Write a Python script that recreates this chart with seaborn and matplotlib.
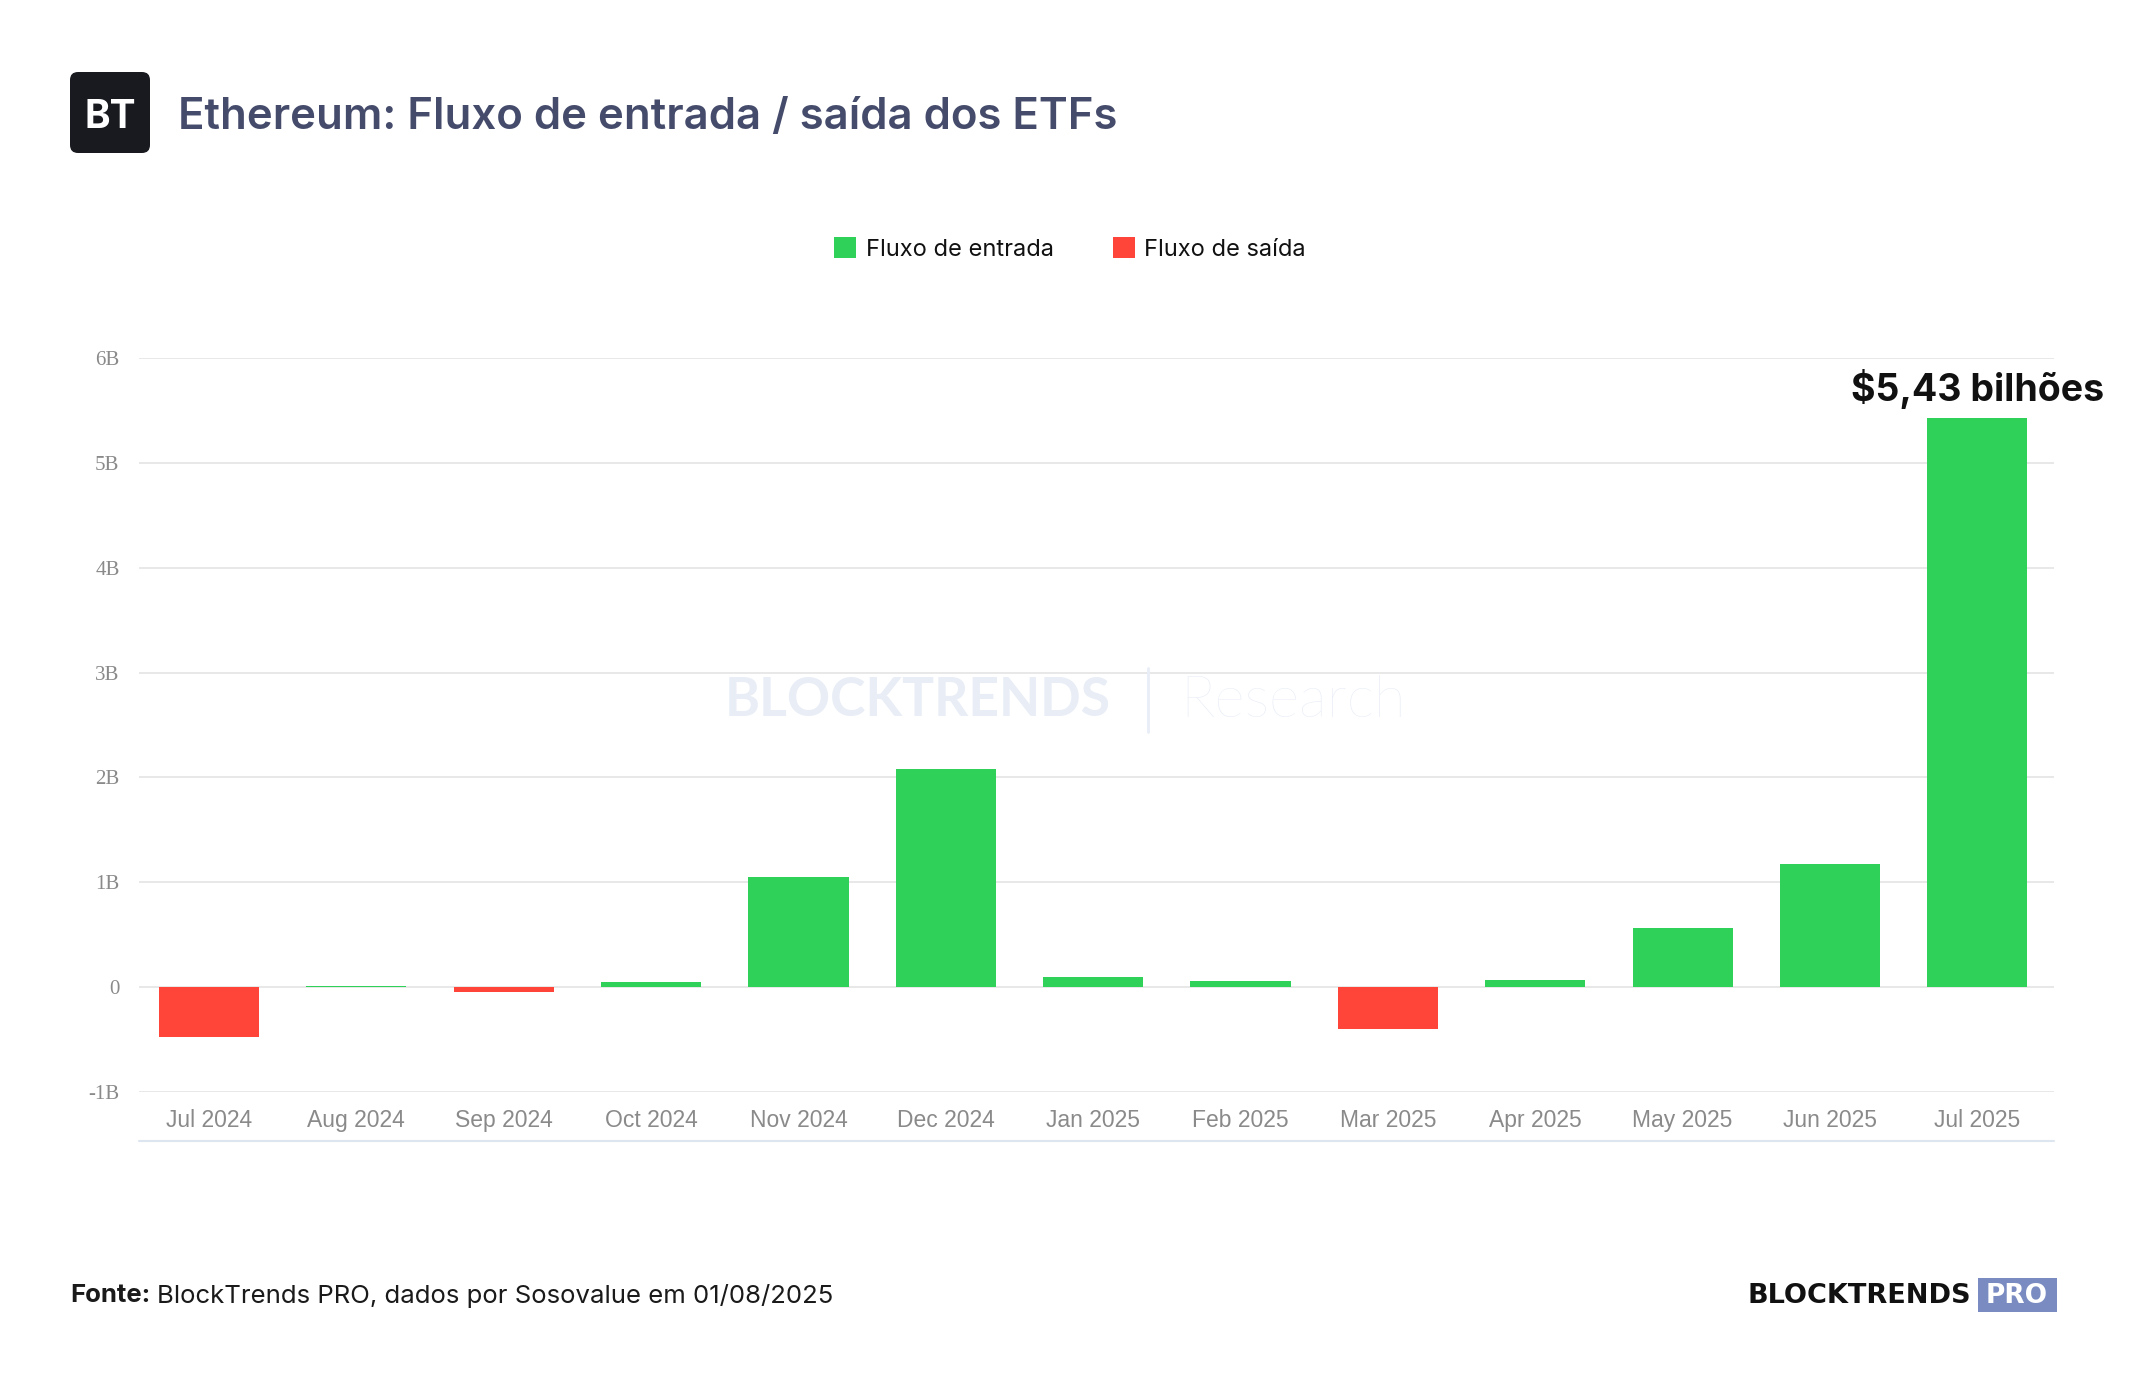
import matplotlib
matplotlib.use("Agg")
import matplotlib.pyplot as plt
import seaborn as sns
import pandas as pd
from matplotlib.patches import Patch, FancyBboxPatch, Rectangle
from matplotlib.lines import Line2D

# ---------------- data ----------------
meses = ["Jul 2024", "Aug 2024", "Sep 2024", "Oct 2024", "Nov 2024", "Dec 2024",
         "Jan 2025", "Feb 2025", "Mar 2025", "Apr 2025", "May 2025", "Jun 2025", "Jul 2025"]
fluxo_bilhoes = [-0.48, 0.01, -0.05, 0.05, 1.05, 2.08, 0.10, 0.06, -0.40, 0.07, 0.56, 1.17, 5.43]
y_ticks = [-1, 0, 1, 2, 3, 4, 5, 6]
y_tick_labels = ["-1B", "0", "1B", "2B", "3B", "4B", "5B", "6B"]
serie_entrada = "Fluxo de entrada"
serie_saida = "Fluxo de saída"
titulo = "Ethereum: Fluxo de entrada / saída dos ETFs"
destaque = "$5,43 bilhões"
fonte_bold = "Fonte:"
fonte_texto = "BlockTrends PRO, dados por Sosovalue em 01/08/2025"

VERDE = "#30D158"
VERMELHO = "#FF453A"

df = pd.DataFrame({
    "mes": meses,
    "valor": fluxo_bilhoes,
    "tipo": [serie_entrada if v >= 0 else serie_saida for v in fluxo_bilhoes],
})

# ---------------- figure ----------------
sns.set_theme(style="white")
plt.rcParams["font.family"] = ["Inter", "DejaVu Sans"]

W, H = 2144, 1400
fig = plt.figure(figsize=(W / 100, H / 100), dpi=100)
fig.patch.set_facecolor("white")

ax = fig.add_axes([139 / W, 1 - 1092 / H, (2054 - 139) / W, (1092 - 358) / H])
ax.set_facecolor("white")

sns.barplot(data=df, x="mes", y="valor", hue="tipo", order=meses,
            hue_order=[serie_entrada, serie_saida],
            palette={serie_entrada: VERDE, serie_saida: VERMELHO},
            dodge=False, width=0.68, saturation=1, linewidth=0,
            legend=False, ax=ax, zorder=3)

ax.set_ylim(-1, 6)
ax.set_xlim(-0.475, 12.52)
ax.set_yticks(y_ticks)
ax.set_yticklabels(y_tick_labels)
ax.set_xlabel("")
ax.set_ylabel("")
for s in ax.spines.values():
    s.set_visible(False)
ax.yaxis.grid(True, color="#e6e6e6", linewidth=1.3, zorder=0)
ax.xaxis.grid(False)
ax.set_axisbelow(True)
ax.tick_params(axis="both", length=0)
ax.tick_params(axis="y", pad=14, labelsize=15, labelcolor="#8a8a8a")
ax.tick_params(axis="x", pad=12, labelsize=16.5, labelcolor="#8a8a8a")
for lab in ax.get_yticklabels():
    lab.set_fontfamily(["Liberation Serif", "DejaVu Serif"])
for lab in ax.get_xticklabels():
    lab.set_fontfamily(["Liberation Sans", "DejaVu Sans"])

# highlight annotation on last bar
ax.annotate(destaque, xy=(len(meses) - 1, fluxo_bilhoes[-1]), xytext=(0, 6),
            textcoords="offset points", ha="center", va="bottom",
            fontsize=27, fontweight="bold", color="#111111",
            fontfamily=["Inter", "DejaVu Sans"], annotation_clip=False)

# bottom border of chart panel
fig.add_artist(Line2D([139 / W, 2054 / W], [1 - 1141 / H, 1 - 1141 / H],
                      color="#dde5f0", linewidth=1.5))

# watermark
fig.text(918 / W, 1 - 701 / H, "BLOCKTRENDS", ha="center", va="center",
         fontsize=38.5, fontweight="bold", color="#e8edf6",
         fontfamily=["Lato", "DejaVu Sans"], zorder=0)
fig.add_artist(Line2D([1148 / W, 1148 / W], [1 - 668 / H, 1 - 732 / H],
                      color="#e8edf6", linewidth=2))
fig.text(1293 / W, 1 - 701 / H, "Research", ha="center", va="center",
         fontsize=42, fontweight="light", color="#e8edf6",
         fontfamily=["Lato", "DejaVu Sans"], zorder=0)

# logo box
logo = FancyBboxPatch((0.70, (H - 153) / 100), 0.80, 0.81,
                      boxstyle="round,pad=0,rounding_size=0.08",
                      transform=fig.dpi_scale_trans, facecolor="#181a20",
                      edgecolor="none")
fig.add_artist(logo)
fig.text(110 / W, 1 - 118 / H, "BT", ha="center", va="center", fontsize=28,
         fontweight="bold", color="white")

# title
fig.text(178 / W, 1 - 117 / H, titulo, ha="left", va="center", fontsize=31.5,
         fontweight="semibold", color="#454b6b")

# legend
handles = [Patch(facecolor=VERDE, edgecolor="none", label=serie_entrada),
           Patch(facecolor=VERMELHO, edgecolor="none", label=serie_saida)]
fig.legend(handles=handles, loc="center", bbox_to_anchor=(0.499, 1 - 249 / H),
           ncol=2, frameon=False, fontsize=17, handlelength=0.95, handleheight=0.95,
           handletextpad=0.4, columnspacing=2.5, labelcolor="#111111")

# footer
fig.canvas.draw()
r = fig.canvas.get_renderer()
t1 = fig.text(70 / W, 1 - 1296 / H, fonte_bold, ha="left", va="center",
              fontsize=18.5, fontweight="bold", color="#1a1a1a")
bb = t1.get_window_extent(renderer=r)
fig.text((bb.x1 + 7) / W, 1 - 1296 / H, fonte_texto, ha="left", va="center",
         fontsize=18.5, color="#1a1a1a")

# brand logo bottom right
fig.text(1971 / W, 1 - 1296 / H, "BLOCKTRENDS", ha="right", va="center",
         fontsize=19.5, fontweight="bold", color="#111111",
         fontfamily=["DejaVu Sans"])
fig.add_artist(Rectangle((1978 / W, 1 - 1312 / H), 79 / W, 34 / H,
                         transform=fig.transFigure, facecolor="#7a8bc1",
                         edgecolor="none"))
fig.text(2017 / W, 1 - 1296 / H, "PRO", ha="center", va="center",
         fontsize=19, fontweight="bold", color="white",
         fontfamily=["DejaVu Sans"])

fig.savefig("out.png", dpi=100, facecolor="white")
